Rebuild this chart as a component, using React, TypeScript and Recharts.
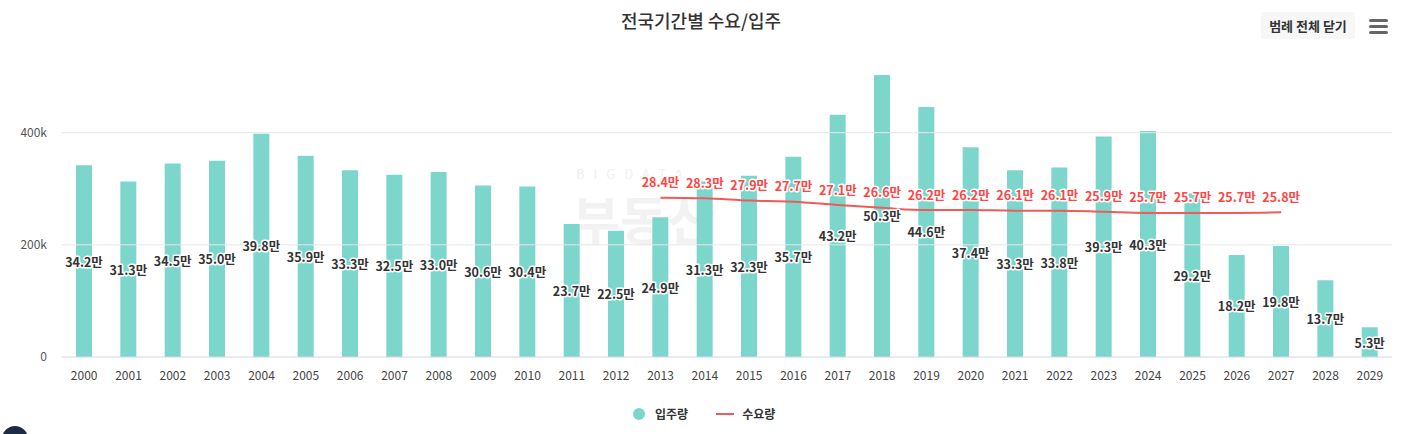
import React from 'react';
import {
  ComposedChart,
  Bar,
  Line,
  XAxis,
  YAxis,
  ReferenceLine,
  LabelList,
} from 'recharts';

const years = [
  '2000', '2001', '2002', '2003', '2004', '2005', '2006', '2007', '2008', '2009',
  '2010', '2011', '2012', '2013', '2014', '2015', '2016', '2017', '2018', '2019',
  '2020', '2021', '2022', '2023', '2024', '2025', '2026', '2027', '2028', '2029',
];

// 입주량 (세대)
const supply = [
  342000, 313000, 345000, 350000, 398000, 359000, 333000, 325000, 330000, 306000,
  304000, 237000, 225000, 249000, 313000, 323000, 357000, 432000, 503000, 446000,
  374000, 333000, 338000, 393000, 403000, 292000, 182000, 198000, 137000, 53000,
];

// 수요량 (2013 ~ 2027)
const demand: (number | null)[] = [
  null, null, null, null, null, null, null, null, null, null,
  null, null, null, 284000, 283000, 279000, 277000, 271000, 266000, 262000,
  262000, 261000, 261000, 259000, 257000, 257000, 257000, 258000, null, null,
];

const yTicks = [0, 200000, 400000];
const gridValues = [200000, 400000];

const BAR_COLOR = '#7dd6cc';
const LINE_COLOR = '#f05a5a';

const chartData = years.map((year, i) => ({
  year,
  supply: supply[i],
  demand: demand[i],
}));

const toMan = (v: number) => `${(v / 10000).toFixed(1)}만`;
const formatY = (v: number) => (v === 0 ? '0' : `${v / 1000}k`);

function BarLabel(props: any) {
  const { x, y, width, height, value } = props;
  if (value == null) return null;
  return (
    <text
      x={x + width / 2}
      y={y + height / 2}
      textAnchor="middle"
      dominantBaseline="central"
      fontSize={12.5}
      fontWeight={700}
      fill="#333"
      stroke="#fff"
      strokeWidth={3}
      strokeLinejoin="round"
      style={{ paintOrder: 'stroke' }}
    >
      {toMan(value)}
    </text>
  );
}

function LineLabel(props: any) {
  const { x, y, value } = props;
  if (value == null) return null;
  return (
    <text
      x={x}
      y={y - 16}
      textAnchor="middle"
      dominantBaseline="central"
      fontSize={12.5}
      fontWeight={700}
      fill="#ff4545"
      stroke="#fff"
      strokeWidth={3}
      strokeLinejoin="round"
      style={{ paintOrder: 'stroke' }}
    >
      {toMan(value)}
    </text>
  );
}

export default function App() {
  const font = '"Noto Sans CJK KR", "Noto Sans", sans-serif';
  return (
    <div
      style={{
        position: 'absolute',
        left: 0,
        top: 0,
        width: 1402,
        height: 434,
        background: '#fff',
        fontFamily: font,
        overflow: 'hidden',
      }}
    >
      {/* watermark */}
      <div
        style={{
          position: 'absolute',
          left: 576,
          top: 164,
          fontSize: 13,
          letterSpacing: 9,
          color: '#f0f0f0',
        }}
      >
        BIGDATA
      </div>
      <div
        style={{
          position: 'absolute',
          left: 572,
          top: 192,
          fontSize: 52,
          fontWeight: 700,
          color: '#f2f2f2',
          lineHeight: 1,
        }}
      >
        부동산
      </div>

      <div
        style={{
          position: 'absolute',
          left: 0,
          top: 7,
          width: 1402,
          textAlign: 'center',
          fontSize: 18,
          fontWeight: 500,
          color: '#333',
        }}
      >
        전국기간별 수요/입주
      </div>

      <div
        style={{
          position: 'absolute',
          left: 1261,
          top: 12,
          width: 94,
          height: 27,
          background: '#f7f7f7',
          borderRadius: 2,
          fontSize: 13,
          fontWeight: 700,
          color: '#333',
          lineHeight: '27px',
          textAlign: 'center',
        }}
      >
        범례 전체 닫기
      </div>
      <div style={{ position: 'absolute', left: 1369, top: 19 }}>
        {[0, 6, 12].map((t) => (
          <div
            key={t}
            style={{
              position: 'absolute',
              top: t,
              width: 19,
              height: 3,
              borderRadius: 1.5,
              background: '#666',
            }}
          />
        ))}
      </div>

      <div style={{ position: 'absolute', left: 0, top: 0 }}>
        <ComposedChart
          width={1402}
          height={434}
          data={chartData}
          margin={{ top: 71, right: 10, bottom: 47, left: 0 }}
          barCategoryGap={0}
        >
          <XAxis
            dataKey="year"
            height={30}
            tickLine={false}
            axisLine={{ stroke: '#ccd6eb' }}
            tick={{ fontSize: 12, fill: '#444', fontFamily: font }}
            tickMargin={8}
            interval={0}
          />
          <YAxis
            width={62}
            domain={[0, 510000]}
            ticks={yTicks}
            tickFormatter={formatY}
            tickLine={false}
            axisLine={false}
            tickMargin={9}
            tick={{ fontSize: 12, fill: '#555', fontFamily: font }}
          />
          {gridValues.map((v) => (
            <ReferenceLine key={v} y={v} stroke="#e6e6e6" />
          ))}
          <Bar
            dataKey="supply"
            fill={BAR_COLOR}
            barSize={16}
            isAnimationActive={false}
          >
            <LabelList dataKey="supply" content={<BarLabel />} />
          </Bar>
          <Line
            dataKey="demand"
            type="monotone"
            stroke={LINE_COLOR}
            strokeWidth={2}
            dot={false}
            connectNulls={false}
            isAnimationActive={false}
          >
            <LabelList dataKey="demand" content={<LineLabel />} />
          </Line>
        </ComposedChart>
      </div>

      {/* legend */}
      <div
        style={{
          position: 'absolute',
          top: 405,
          left: 633,
          display: 'flex',
          alignItems: 'center',
          fontSize: 12,
          fontWeight: 700,
          color: '#333',
        }}
      >
        <span
          style={{
            width: 12,
            height: 12,
            borderRadius: 6,
            background: BAR_COLOR,
            display: 'inline-block',
          }}
        />
        <span style={{ marginLeft: 10 }}>입주량</span>
        <span
          style={{
            width: 18,
            height: 2,
            background: LINE_COLOR,
            display: 'inline-block',
            marginLeft: 28,
          }}
        />
        <span style={{ marginLeft: 8 }}>수요량</span>
      </div>

      <div
        style={{
          position: 'absolute',
          left: 2,
          top: 426,
          width: 26,
          height: 26,
          borderRadius: 13,
          background: '#1d2b45',
        }}
      />
    </div>
  );
}
